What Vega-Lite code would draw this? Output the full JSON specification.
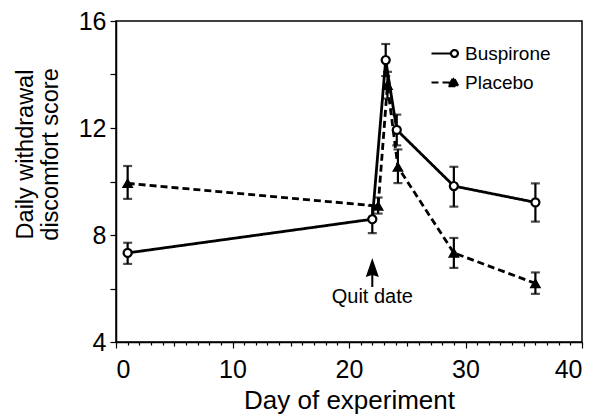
{
  "$schema": "https://vega.github.io/schema/vega-lite/v6.json",
  "width": 466,
  "height": 321,
  "autosize": "none",
  "padding": {"left": 116, "top": 21, "right": 26, "bottom": 73},
  "background": "white",
  "config": {
    "font": "Liberation Sans",
    "view": {"stroke": "black", "strokeWidth": 1.5},
    "axis": {"domainColor": "black", "domainWidth": 1.5, "tickColor": "black", "tickWidth": 1.2, "grid": false, "labelColor": "black", "titleColor": "black", "titleFontWeight": "normal", "labelFont": "Liberation Sans", "titleFont": "Liberation Sans"}
  },
  "datasets": {
    "scores": [
      {"group": "Buspirone", "day": 1, "score": 7.33, "lo": 6.92, "hi": 7.71},
      {"group": "Buspirone", "day": 22, "score": 8.59, "lo": 8.07, "hi": 9.1},
      {"group": "Buspirone", "day": 23.15, "score": 14.54, "lo": 13.94, "hi": 15.14},
      {"group": "Buspirone", "day": 24.1, "score": 11.93, "lo": 11.35, "hi": 12.5},
      {"group": "Buspirone", "day": 29, "score": 9.83, "lo": 9.06, "hi": 10.55},
      {"group": "Buspirone", "day": 36, "score": 9.22, "lo": 8.5, "hi": 9.93},
      {"group": "Placebo", "day": 1, "score": 9.93, "lo": 9.35, "hi": 10.58},
      {"group": "Placebo", "day": 22.5, "score": 9.08, "lo": 8.8, "hi": 9.4},
      {"group": "Placebo", "day": 23.3, "score": 13.6, "lo": 13.1, "hi": 14.1},
      {"group": "Placebo", "day": 24.2, "score": 10.54, "lo": 9.94, "hi": 11.2},
      {"group": "Placebo", "day": 29, "score": 7.33, "lo": 6.77, "hi": 7.89},
      {"group": "Placebo", "day": 36, "score": 6.19, "lo": 5.8, "hi": 6.6}
    ],
    "notes": [
      {"label": "Quit date", "day": 22, "textY": 5.68, "arrowY": 6.6}
    ]
  },
  "encoding": {
    "x": {"field": "day", "type": "quantitative", "scale": {"domain": [0, 40], "nice": false, "zero": false},
      "axis": {"title": "Day of experiment", "titleFontSize": 26, "titlePadding": 5, "labelFontSize": 25, "labelPadding": 9,
        "values": [0,1,2,3,4,5,6,7,8,9,10,11,12,13,14,15,16,17,18,19,20,21,22,23,24,25,26,27,28,29,30,31,32,33,34,35,36,37,38,39,40],
        "labelExpr": "datum.value % 10 === 0 ? datum.label : ''",
        "tickSize": {"condition": [{"test": "datum.value % 10 === 0", "value": 6}, {"test": "datum.value % 5 === 0", "value": 4}], "value": 3}}}
  },
  "layer": [
    {
      "data": {"name": "scores"},
      "mark": {"type": "line", "strokeWidth": 2.8, "color": "black"},
      "encoding": {
        "y": {"field": "score", "type": "quantitative", "scale": {"domain": [4, 16], "nice": false, "zero": false},
          "axis": {"values": [4, 6, 8, 10, 12, 14, 16], "labelExpr": "datum.value % 4 === 0 ? datum.label : ''", "tickSize": 6, "labelPadding": 4, "labelFontSize": 25,
            "title": ["Daily withdrawal", "discomfort score"], "titleFontSize": 23.5, "titleLineHeight": 25, "titleAngle": -90, "titleAlign": "center", "titleBaseline": "top", "titleX": -103, "titleY": 133}},
        "strokeDash": {"field": "group", "type": "nominal", "scale": {"domain": ["Buspirone", "Placebo"], "range": [[1, 0], [7, 4]]},
          "legend": {"title": null, "orient": "none", "legendX": 314, "legendY": 16, "padding": 0, "rowPadding": 2,
            "symbolSize": 900, "symbolStrokeWidth": 2, "symbolStrokeColor": "black", "labelFontSize": 19, "labelOffset": 2, "labelColor": "black", "labelFont": "Liberation Sans",
            "encode": {"symbols": {"update": {
              "shape": {"signal": "datum.label === 'Buspirone' ? 'M-1,0L0.3,0M0.76,0A0.23,0.23,0,1,1,0.3,0A0.23,0.23,0,1,1,0.76,0Z' : 'M-1,0L0.2,0M0.13,0.25L0.8,0.25L0.47,-0.35Z'"},
              "fill": {"signal": "datum.label === 'Buspirone' ? 'white' : 'black'"},
              "fillOpacity": {"value": 1},
              "stroke": {"value": "black"},
              "strokeWidth": {"value": 2.2}
            }}}}}
      }
    },
    {
      "data": {"name": "scores"},
      "mark": {"type": "rule", "strokeWidth": 2.2, "color": "black"},
      "encoding": {
        "y": {"field": "lo", "type": "quantitative"},
        "y2": {"field": "hi"}
      }
    },
    {
      "data": {"name": "scores"},
      "mark": {"type": "tick", "orient": "horizontal", "size": 9, "thickness": 2.2, "color": "black"},
      "encoding": {"y": {"field": "lo", "type": "quantitative"}}
    },
    {
      "data": {"name": "scores"},
      "mark": {"type": "tick", "orient": "horizontal", "size": 9, "thickness": 2.2, "color": "black"},
      "encoding": {"y": {"field": "hi", "type": "quantitative"}}
    },
    {
      "data": {"name": "scores"},
      "transform": [{"filter": "datum.group === 'Placebo'"}],
      "mark": {"type": "point", "filled": true, "shape": "triangle-up", "size": 85, "fill": "black", "stroke": "black", "strokeWidth": 1.5, "opacity": 1},
      "encoding": {"y": {"field": "score", "type": "quantitative"}}
    },
    {
      "data": {"name": "scores"},
      "transform": [{"filter": "datum.group === 'Buspirone'"}],
      "mark": {"type": "point", "filled": true, "shape": "circle", "size": 65, "fill": "white", "stroke": "black", "strokeWidth": 2.2, "opacity": 1},
      "encoding": {"y": {"field": "score", "type": "quantitative"}}
    },
    {
      "data": {"name": "notes"},
      "mark": {"type": "point", "filled": true, "color": "black", "opacity": 1, "size": 841,
        "shape": "M0,-1L0.45,0.31L0.07,0.2L0.07,1L-0.07,1L-0.07,0.2L-0.45,0.31Z"},
      "encoding": {"y": {"field": "arrowY", "type": "quantitative"}}
    },
    {
      "data": {"name": "notes"},
      "mark": {"type": "text", "fontSize": 20, "color": "black", "baseline": "middle", "align": "center", "font": "Liberation Sans"},
      "encoding": {"y": {"field": "textY", "type": "quantitative"}, "text": {"field": "label"}}
    }
  ]
}
